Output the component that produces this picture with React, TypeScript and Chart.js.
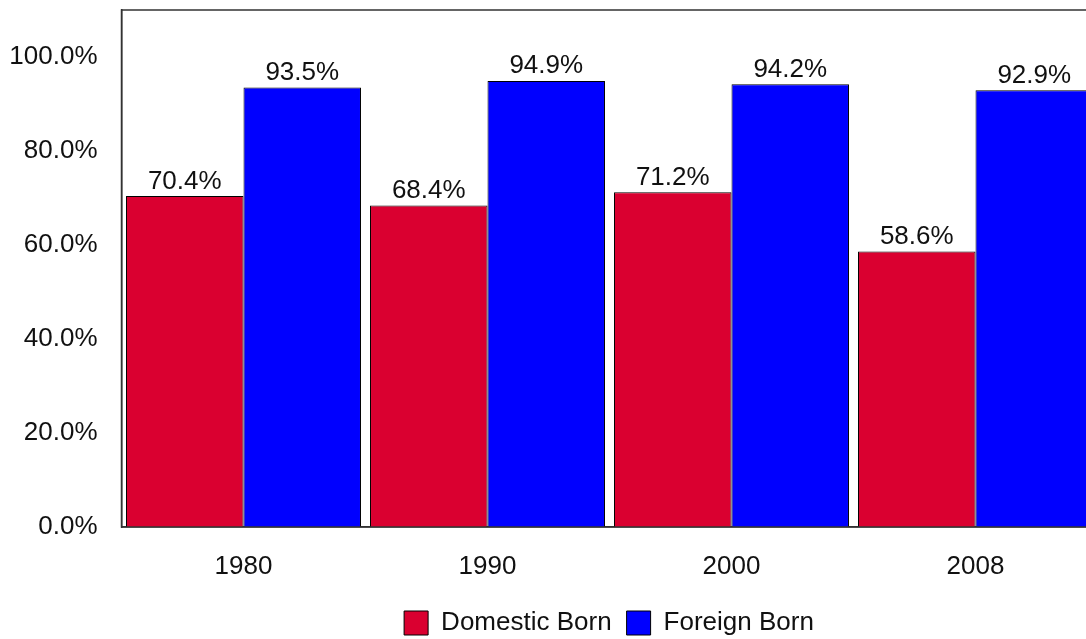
import React, { useEffect, useRef } from "react";
import { Chart, registerables } from "chart.js";

Chart.register(...registerables);

const categories = ["1980", "1990", "2000", "2008"];
const domesticBorn = [70.4, 68.4, 71.2, 58.6];
const foreignBorn = [93.5, 94.9, 94.2, 92.9];
const seriesNames = ["Domestic Born", "Foreign Born"];
const yTicks = [0, 20, 40, 60, 80, 100];

const FONT = "'Liberation Sans', Arial, sans-serif";
const FS = 26;

const frame = {
  id: "frame",
  afterDatasetsDraw(chart: any) {
    const { ctx, chartArea } = chart;
    ctx.save();
    ctx.strokeStyle = "#333";
    ctx.lineWidth = 1.5;
    ctx.strokeRect(chartArea.left, chartArea.top, chartArea.right - chartArea.left, chartArea.bottom - chartArea.top);
    ctx.restore();
  },
};

const valueLabels = {
  id: "valueLabels",
  afterDatasetsDraw(chart: any) {
    const { ctx } = chart;
    ctx.save();
    ctx.font = `${FS}px ${FONT}`;
    ctx.fillStyle = "#111";
    ctx.textAlign = "center";
    ctx.textBaseline = "alphabetic";
    chart.data.datasets.forEach((ds: any, i: number) => {
      const meta = chart.getDatasetMeta(i);
      meta.data.forEach((bar: any, j: number) => {
        ctx.fillText(ds.data[j].toFixed(1) + "%", bar.x, bar.y - 7.5);
      });
    });
    ctx.restore();
  },
};

export default function App() {
  const ref = useRef<HTMLCanvasElement>(null);
  useEffect(() => {
    if (!ref.current) return;
    const chart = new Chart(ref.current, {
      type: "bar",
      data: {
        labels: categories,
        datasets: [
          {
            label: seriesNames[0],
            data: domesticBorn,
            backgroundColor: "#DA0030",
            borderColor: "#000",
            borderWidth: 1,
            barPercentage: 1,
            categoryPercentage: 0.963,
          },
          {
            label: seriesNames[1],
            data: foreignBorn,
            backgroundColor: "#0000FF",
            borderColor: "#000",
            borderWidth: 1,
            barPercentage: 1,
            categoryPercentage: 0.963,
          },
        ],
      },
      options: {
        responsive: false,
        animation: false,
        layout: { padding: { left: 0, right: 0, top: 10, bottom: 0 } },
        plugins: {
          tooltip: { enabled: false },
          legend: {
            position: "bottom",
            labels: {
              font: { family: FONT, size: FS },
              color: "#111",
              boxWidth: 24,
              boxHeight: 24,
              padding: 15,
            },
          },
        },
        scales: {
          x: {
            grid: { display: false, drawTicks: false },
            border: { display: true, color: "#333", width: 1.5 },
            ticks: { font: { family: FONT, size: FS }, color: "#111", padding: 24 },
            afterFit: (scale: any) => {
              scale.height = 68;
              scale.paddingLeft = 0;
              scale.paddingRight = 0;
            },
          },
          y: {
            min: 0,
            max: 110,
            afterBuildTicks: (scale: any) => {
              scale.ticks = yTicks.map((v) => ({ value: v }));
            },
            grid: { display: false, drawTicks: false },
            border: { display: true, color: "#333", width: 1.5 },
            ticks: {
              font: { family: FONT, size: FS },
              color: "#111",
              padding: 24,
              callback: (v: any) => Number(v).toFixed(1) + "%",
            },
            afterFit: (scale: any) => {
              scale.width = 121.5;
              scale.paddingTop = 0;
              scale.paddingBottom = 0;
            },
          },
          yR: {
            position: "right",
            min: 0,
            max: 110,
            grid: { display: false, drawTicks: false },
            border: { display: false },
            ticks: { display: false },
            afterFit: (scale: any) => {
              scale.width = 120.5;
              scale.paddingTop = 0;
              scale.paddingBottom = 0;
            },
          },
        },
      },
      plugins: [frame, valueLabels],
    });
    return () => chart.destroy();
  }, []);
  return (
    <div style={{ position: "fixed", left: 0, top: 0, width: 1086, height: 639, overflow: "hidden", background: "#fff" }}>
      <canvas ref={ref} width={1218} height={646} style={{ display: "block" }} />
    </div>
  );
}
